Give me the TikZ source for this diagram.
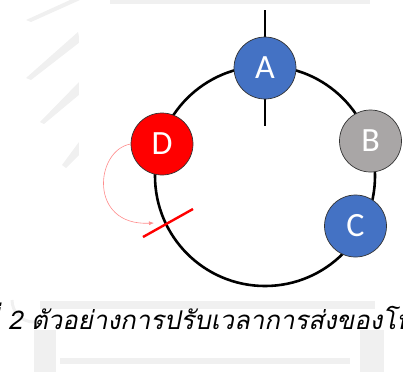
\documentclass[tikz,border=0pt]{standalone}
\usepackage{fontspec}
\newfontfamily\nodefont{Carlito}
\newfontfamily\thaifont[Script=Thai,FakeSlant=0.2]{Loma}
\usetikzlibrary{arrows.meta}
\definecolor{nblue}{HTML}{4472C4}
\definecolor{ngray}{HTML}{A9A6A6}
\definecolor{nred}{HTML}{FF0000}
\definecolor{wm}{gray}{0.94}
\tikzset{
  station/.style={circle, draw=black!80, line width=0.7pt, minimum size=62pt, inner sep=0pt,
    text=white, font=\nodefont\fontsize{34}{34}\selectfont},
  ring/.style={line width=2.6pt, black},
  wmark/.style={fill=wm, draw=none},
}
\begin{document}
\begin{tikzpicture}[x=1pt, y=-1pt]
\useasboundingbox (0,0) rectangle (403,376);
\clip (0,0) rectangle (403,376);
% faint watermark
\fill[wmark] (26,20) -- (70,0) -- (80,0) -- (31,22) -- cycle;
\fill[wmark] (26,78) -- (78,32) -- (80,42) -- (31,80) -- cycle;
\fill[wmark] (40,122) -- (79,82) -- (80,94) -- (44,124) -- cycle;
\fill[wmark] (62,165) -- (79,142) -- (80,154) -- (66,168) -- cycle;
\fill[wmark] (110,0) rectangle (370,4);
\fill[wmark] (40,301) rectangle (375,309);
\fill[wmark] (60,358) rectangle (350,364);
\fill[wmark] (34,330) rectangle (56,372);
\fill[wmark] (360,330) rectangle (384,372);
\draw[wm, line width=3pt] (12,300) arc (180:90:22);
% white figure area
\fill[white] (79,6) rectangle (403,298);
% ring
\coordinate (ctr) at (265,176);
\draw[ring] (ctr) circle (110);
\coordinate (atop) at (265,10);
\coordinate (abot) at (265,126);
\draw[line width=2.2pt] (atop) -- (abot);
% stations
\node[station, fill=nblue] (A) at (265,68) {A};
\node[station, fill=ngray] (B) at (370.5,141) {B};
\node[station, fill=nblue] (C) at (355.5,226) {C};
\node[station, fill=nred] (D) at (162,144) {D};
% cut mark
\coordinate (r1) at (143,237);
\coordinate (r2) at (193,209);
\draw[nred, line width=2.4pt] (r1) -- (r2);
% pink arrow
\coordinate (tip) at (154,223);
\draw[red!45, line width=0.6pt, -{Latex[length=5pt,width=4pt]}]
  (D.west) .. controls (95,150) and (88,226) .. (tip);
% caption
\node[anchor=base west, inner sep=0pt, font=\thaifont\fontsize{25.8}{26}\selectfont] (cap) at (8,329) {2 ตัวอย่างการปรับเวลาการส่งของโหนด};
\node[anchor=base east, inner sep=0pt, font=\thaifont\fontsize{25.8}{26}\selectfont] (cap0) at (-1,329) {รูปที่};
\end{tikzpicture}
\end{document}
